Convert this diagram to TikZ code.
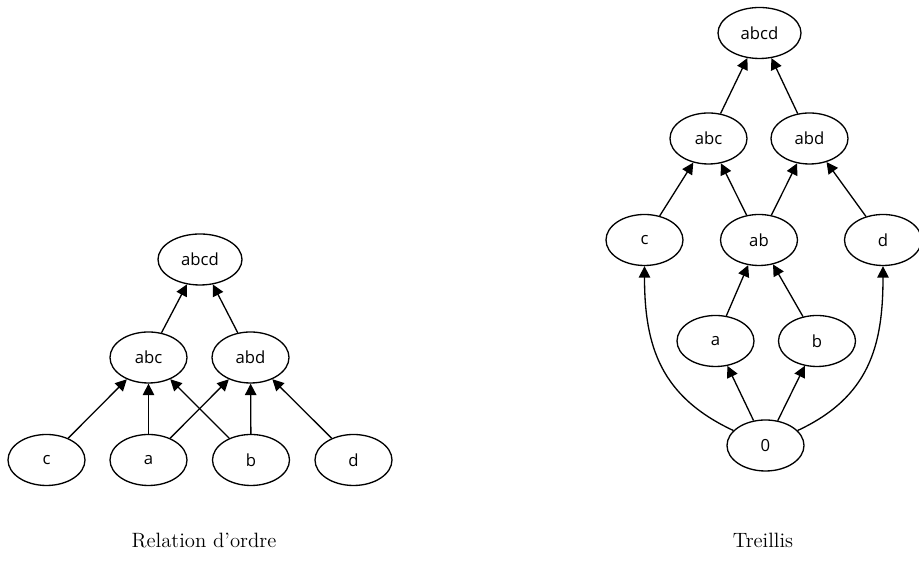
\documentclass[tikz,border=0pt]{standalone}
\usepackage{fontspec}
\newfontfamily\nodefont{Open Sans}
\usepackage{tikz}
\usetikzlibrary{shapes.geometric, arrows.meta}

\begin{document}
\begin{tikzpicture}[
		scale=1,
		every node/.style={ellipse, draw, line width=0.75pt, minimum width=1.54cm, minimum height=1.02cm, inner sep=0pt, font=\nodefont\fontsize{9.5}{11}\selectfont},
		caption/.style={draw=none, font=\fontsize{11.8}{14}\selectfont},
		every edge/.style={draw, line width=0.75pt, -{Triangle[length=6.5pt, width=6.5pt]}}
	]
  \useasboundingbox (0cm, 0cm) rectangle (18.38cm, 11.5cm);
  % relation d'ordre
  \node (l_abcd) [minimum width=1.68cm] at (4.0cm, 6.31cm) {abcd};
  \node (l_abc) at (2.97cm, 4.35cm) {abc};
  \node (l_abd) at (5.01cm, 4.35cm) {abd};
  \node (l_c) at (0.93cm, 2.3cm) {c};
  \node (l_a) at (2.97cm, 2.3cm) {a};
  \node (l_b) at (5.02cm, 2.3cm) {b};
  \node (l_d) at (7.07cm, 2.3cm) {d};
  \node (l_caption) [caption, anchor=base] at (4.08cm, 0.54cm) {Relation d'ordre};
  \draw (l_abc) edge (l_abcd);
  \draw (l_abd) edge (l_abcd);
  \draw (l_c) edge (l_abc);
  \draw (l_a) edge (l_abc);
  \draw (l_a) edge (l_abd);
  \draw (l_b) edge (l_abc);
  \draw (l_b) edge (l_abd);
  \draw (l_d) edge (l_abd);
  % treillis
  \node (r_abcd) [minimum width=1.66cm] at (15.19cm, 10.84cm) {abcd};
  \node (r_abc) at (14.17cm, 8.73cm) {abc};
  \node (r_abd) at (16.19cm, 8.73cm) {abd};
  \node (r_c) at (12.89cm, 6.7cm) {c};
  \node (r_ab) at (15.18cm, 6.7cm) {ab};
  \node (r_d) at (17.66cm, 6.7cm) {d};
  \node (r_a) at (14.31cm, 4.68cm) {a};
  \node (r_b) at (16.34cm, 4.68cm) {b};
  \node (r_0) at (15.31cm, 2.59cm) {0};
  \node (r_caption) [caption, anchor=base] at (15.26cm, 0.54cm) {Treillis};
  \draw (r_abc) edge (r_abcd);
  \draw (r_abd) edge (r_abcd);
  \draw (r_c) edge (r_abc);
  \draw (r_ab) edge (r_abc);
  \draw (r_ab) edge (r_abd);
  \draw (r_d) edge (r_abd);
  \draw (r_a) edge (r_ab);
  \draw (r_b) edge (r_ab);
  \draw (r_0) edge (r_a);
  \draw (r_0) edge (r_b);
  \draw (r_0) edge [out=155, in=-90, looseness=1.1] (r_c);
  \draw (r_0) edge [out=25, in=-90, looseness=1.1] (r_d);
\end{tikzpicture}
\end{document}
